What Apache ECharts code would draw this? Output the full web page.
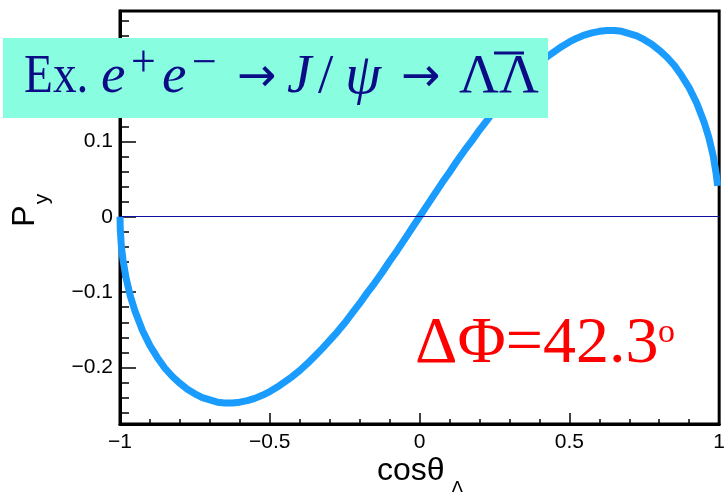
<!DOCTYPE html>
<html>
<head>
<meta charset="utf-8">
<script src="https://cdn.jsdelivr.net/npm/echarts@6/dist/echarts.min.js"></script>
<style>html,body{margin:0;padding:0;background:#fff}#c{width:728px;height:492px}</style>
</head>
<body>
<div id="c"></div>
<script>
// data
var cosTheta = [-1, -0.999, -0.995, -0.99, -0.98, -0.965, -0.95, -0.925, -0.9, -0.875, -0.85, -0.825, -0.8, -0.775, -0.75, -0.725, -0.7, -0.675, -0.65, -0.625, -0.6, -0.575, -0.55, -0.525, -0.5, -0.475, -0.45, -0.425, -0.4, -0.375, -0.35, -0.325, -0.3, -0.275, -0.25, -0.225, -0.2, -0.175, -0.15, -0.125, -0.1, -0.075, -0.05, -0.025, 0,
  0.025, 0.05, 0.075, 0.1, 0.125, 0.15, 0.175, 0.2, 0.225, 0.25, 0.275, 0.3, 0.325, 0.35, 0.375, 0.4, 0.425, 0.45, 0.475, 0.5, 0.525, 0.55, 0.575, 0.6, 0.625, 0.65, 0.675, 0.7, 0.725, 0.75, 0.775, 0.8, 0.825, 0.85, 0.875, 0.9, 0.925, 0.95, 0.965, 0.98, 0.99, 0.995];
var Py = [0, -0.018, -0.041, -0.057, -0.081, -0.106, -0.125, -0.151, -0.171, -0.187, -0.201, -0.212, -0.221, -0.229, -0.235, -0.240, -0.243, -0.246, -0.247, -0.247, -0.246, -0.244, -0.241, -0.237, -0.232, -0.226, -0.219, -0.212, -0.204, -0.195, -0.185, -0.175, -0.164, -0.153, -0.141, -0.128, -0.115, -0.101, -0.088, -0.074, -0.059, -0.045, -0.030, -0.015, 0,
  0.015, 0.030, 0.045, 0.059, 0.074, 0.088, 0.101, 0.115, 0.128, 0.141, 0.153, 0.164, 0.175, 0.185, 0.195, 0.204, 0.212, 0.219, 0.226, 0.232, 0.237, 0.241, 0.244, 0.246, 0.247, 0.247, 0.246, 0.243, 0.240, 0.235, 0.229, 0.221, 0.212, 0.201, 0.187, 0.171, 0.151, 0.125, 0.106, 0.081, 0.057, 0.041];
var xTicks = [-1, -0.5, 0, 0.5, 1];
var yTicks = [-0.2, -0.1, 0, 0.1];
var yMinorTicks = [-0.26, -0.24, -0.22, -0.18, -0.16, -0.14, -0.12, -0.08, -0.06, -0.04, -0.02, 0.02, 0.04, 0.06, 0.08, 0.12, 0.14, 0.16, 0.18, 0.2, 0.22, 0.24, 0.26];
var yRange = [-0.275, 0.273];
var zeroLine = 0;

function fmt(v) {
  var s = String(Math.round(v * 100) / 100);
  return s.replace('-', '\u2212');
}

var seriesData = cosTheta.map(function (x, i) { return [x, Py[i]]; });
var chart = echarts.init(document.getElementById('c'), null, { renderer: 'canvas' });
var sansFont = 'Liberation Sans';
var serifFont = 'Liberation Serif';
var navy = '#0c0c86';

function tickAxis(values, len) {
  return {
    type: 'value', min: yRange[0], max: yRange[1], position: 'left', offset: 0,
    axisLine: { show: false, onZero: false },
    axisTick: { show: true, inside: true, length: len, customValues: values, lineStyle: { color: '#000', width: 1.5 } },
    splitLine: { show: false },
    axisLabel: { show: false }
  };
}

chart.setOption({
  backgroundColor: '#ffffff',
  animation: false,
  grid: { left: 120, right: 6, top: 11, bottom: 68, show: true, borderColor: '#000', borderWidth: 3, backgroundColor: 'transparent' },
  xAxis: {
    type: 'value', min: xTicks[0], max: xTicks[xTicks.length - 1], interval: 0.5,
    axisLine: { show: true, onZero: false, lineStyle: { color: '#000', width: 3 } },
    axisTick: { show: true, inside: true, length: 11, lineStyle: { color: '#000', width: 1.5 } },
    minorTick: { show: true, splitNumber: 5, length: 5, lineStyle: { color: '#000', width: 1.5 } },
    splitLine: { show: false },
    axisLabel: { formatter: fmt, color: '#000', fontFamily: sansFont, fontSize: 21, margin: 8 }
  },
  yAxis: [{
    type: 'value', min: yRange[0], max: yRange[1], position: 'left', offset: 0,
    axisLine: { show: true, onZero: false, lineStyle: { color: '#000', width: 3 } },
    axisTick: { show: false },
    splitLine: { show: false },
    axisLabel: { customValues: yTicks, formatter: fmt, color: '#000', fontFamily: sansFont, fontSize: 21, margin: 7 }
  }, tickAxis(yTicks, 16), tickAxis(yMinorTicks, 9)],
  series: [{
    type: 'line', data: seriesData, xAxisIndex: 0, yAxisIndex: 0,
    showSymbol: false, smooth: false, z: 3,
    lineStyle: { color: '#1a9cff', width: 7, cap: 'butt', join: 'round' },
    markLine: {
      silent: true, symbol: 'none', label: { show: false }, z: 4,
      lineStyle: { color: '#1010a0', width: 1.2, type: 'solid' },
      data: [{ yAxis: zeroLine }]
    }
  }],
  graphic: [
    { type: 'rect', shape: { x: 3, y: 38, width: 545, height: 80 }, style: { fill: '#89fde0' }, z: 10 },
    { type: 'text', x: 24, y: 78, scaleX: 0.86, z: 11, style: { text: 'Ex.', fontFamily: serifFont, fontSize: 55, fill: navy, verticalAlign: 'middle' } },
    { type: 'text', x: 101, y: 78, z: 11, style: { text: 'e', fontFamily: serifFont, fontStyle: 'italic', fontSize: 55, fill: navy, verticalAlign: 'middle' } },
    { type: 'text', x: 131, y: 64, z: 11, style: { text: '+', fontFamily: serifFont, fontSize: 44, fill: navy, verticalAlign: 'middle' } },
    { type: 'text', x: 162, y: 78, z: 11, style: { text: 'e', fontFamily: serifFont, fontStyle: 'italic', fontSize: 55, fill: navy, verticalAlign: 'middle' } },
    { type: 'text', x: 192, y: 64, z: 11, style: { text: '\u2212', fontFamily: serifFont, fontSize: 44, fill: navy, verticalAlign: 'middle' } },
    { type: 'text', x: 237, y: 79, z: 11, style: { text: '\u2192', fontFamily: 'DejaVu Sans', fontSize: 47, fill: navy, verticalAlign: 'middle' } },
    { type: 'text', x: 287, y: 78, z: 11, style: { text: 'J', fontFamily: serifFont, fontStyle: 'italic', fontSize: 55, fill: navy, verticalAlign: 'middle' } },
    { type: 'text', x: 318, y: 78, z: 11, style: { text: '/', fontFamily: serifFont, fontSize: 55, fill: navy, verticalAlign: 'middle' } },
    { type: 'text', x: 345, y: 78, z: 11, style: { text: '\u03c8', fontFamily: serifFont, fontStyle: 'italic', fontSize: 58, fill: navy, verticalAlign: 'middle' } },
    { type: 'text', x: 401, y: 79, z: 11, style: { text: '\u2192', fontFamily: 'DejaVu Sans', fontSize: 47, fill: navy, verticalAlign: 'middle' } },
    { type: 'text', x: 459, y: 78, z: 11, style: { text: '\u039b\u039b', fontFamily: serifFont, fontSize: 55, fill: navy, verticalAlign: 'middle' } },
    { type: 'line', shape: { x1: 494, y1: 53, x2: 524, y2: 53 }, style: { stroke: navy, lineWidth: 3 }, z: 11 },
    { type: 'text', x: 415, y: 345, z: 11, style: { text: '\u0394\u03a6=42.3', fontFamily: serifFont, fontSize: 66, fill: '#ff0000', verticalAlign: 'middle' } },
    { type: 'text', x: 658, y: 333, z: 11, style: { text: 'o', fontFamily: serifFont, fontSize: 34, fill: '#ff0000', verticalAlign: 'middle' } },
    { type: 'text', x: 377, y: 471, z: 11, style: { text: 'cos\u03b8', fontFamily: sansFont, fontSize: 32, fill: '#000', verticalAlign: 'middle' } },
    { type: 'text', x: 451, y: 489, z: 11, style: { text: '\u039b', fontFamily: sansFont, fontSize: 19, fill: '#000', verticalAlign: 'middle' } },
    { type: 'text', x: 25, y: 216, rotation: Math.PI / 2, z: 11, style: { text: 'P', fontFamily: sansFont, fontSize: 32, fill: '#000', align: 'center', verticalAlign: 'middle' } },
    { type: 'text', x: 42, y: 199, rotation: Math.PI / 2, z: 11, style: { text: 'y', fontFamily: sansFont, fontSize: 21, fill: '#000', align: 'center', verticalAlign: 'middle' } }
  ]
});
</script>
</body>
</html>
